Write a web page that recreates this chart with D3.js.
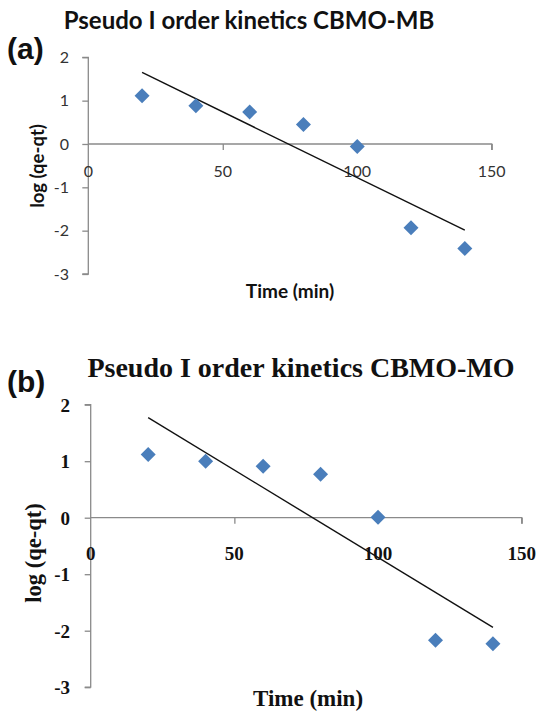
<!DOCTYPE html>
<html><head><meta charset="utf-8">
<script src="https://cdn.jsdelivr.net/npm/d3@7"></script>
<style>html,body{margin:0;padding:0;background:#fff;}svg{display:block;}</style>
</head><body>
<svg id="chart" width="540" height="712"></svg>
<script>
// ---- data ----
const timeMin = [20, 40, 60, 80, 100, 120, 140];
const logA = [1.11, 0.88, 0.74, 0.45, -0.06, -1.93, -2.41];
const logB = [1.12, 1.00, 0.91, 0.77, 0.01, -2.17, -2.23];
const trendTime = [20, 140];
const trendA = [1.65, -1.99];
const trendB = [1.77, -1.94];
const xTicks = [0, 50, 100, 150];
const yTicks = [2, 1, 0, -1, -2, -3];
const titles = ["Pseudo I order kinetics CBMO-MB", "Pseudo I order kinetics CBMO-MO"];
const panelTags = ["(a)", "(b)"];
const xLabel = "Time (min)";
const yLabel = "log (qe-qt)";

const svg = d3.select("#chart");

function panel(cfg, values, trend, title, tag) {
  const g = svg.append("g");
  const x = d3.scaleLinear().domain([0, 150]).range(cfg.xr);
  const y = d3.scaleLinear().domain([-3, 2]).range(cfg.yr);
  const axisCol = "#8a8a8a";

  // y axis (left ticks)
  const ya = d3.axisLeft(y).tickValues(yTicks).tickSize(6).tickFormat("");
  const yg = g.append("g").attr("transform", `translate(${x(0)},0)`).call(ya);
  yg.select(".domain").attr("stroke", axisCol).attr("stroke-width", 1.3).attr("d", `M-6,${y(2)}H0V${y(-3)}H-6`);
  yg.selectAll(".tick line").attr("stroke", axisCol).attr("stroke-width", 1.3);

  // x axis at zero line, ticks downward
  const xa = d3.axisBottom(x).tickValues(xTicks.slice(1)).tickSize(6).tickFormat("");
  const xg = g.append("g").attr("transform", `translate(0,${y(0)})`).call(xa);
  xg.select(".domain").attr("stroke", axisCol).attr("stroke-width", 1.3).attr("d", `M${x(0)},0H${x(150)}V6`);
  xg.selectAll(".tick line").attr("stroke", axisCol).attr("stroke-width", 1.3);

  // tick labels
  g.selectAll(".ylab").data(yTicks).join("text")
    .attr("x", cfg.yLabRight).attr("y", d => y(d))
    .attr("dy", "0.36em").attr("text-anchor", "end")
    .style("font-family", cfg.font).style("font-weight", cfg.tickWeight)
    .style("font-size", cfg.tickSize + "px").attr("fill", cfg.tickCol)
    .text(d => d);
  g.selectAll(".xlab").data(xTicks).join("text")
    .attr("x", d => x(d)).attr("y", cfg.xLabY)
    .attr("text-anchor", "middle")
    .style("font-family", cfg.font).style("font-weight", cfg.tickWeight)
    .style("font-size", cfg.tickSize + "px").attr("fill", cfg.tickCol)
    .text(d => d);

  // trendline
  g.append("line")
    .attr("x1", x(trendTime[0])).attr("y1", y(trend[0]))
    .attr("x2", x(trendTime[1])).attr("y2", y(trend[1]))
    .attr("stroke", "#111").attr("stroke-width", 1.4);

  // markers
  g.selectAll(".pt").data(timeMin.map((t, i) => [t, values[i]])).join("path")
    .attr("d", "M0,-7.5L7.5,0L0,7.5L-7.5,0Z")
    .attr("transform", d => `translate(${x(d[0])},${y(d[1])})`)
    .attr("fill", "#4a7ebb");

  // axis titles
  g.append("text").attr("x", cfg.xTitle[0]).attr("y", cfg.xTitle[1])
    .attr("text-anchor", "middle")
    .style("font-family", cfg.font).style("font-weight", "bold")
    .style("font-size", cfg.xTitleSize + "px").attr("fill", "#111").text(xLabel);
  g.append("text").attr("transform", `translate(${cfg.yTitle[0]},${cfg.yTitle[1]}) rotate(-90)`)
    .attr("text-anchor", "middle")
    .style("font-family", cfg.font).style("font-weight", "bold")
    .style("font-size", cfg.yTitleSize + "px").attr("fill", "#111").text(yLabel);

  // chart title
  g.append("text").attr("x", cfg.title[0]).attr("y", cfg.title[1])
    .attr("text-anchor", "middle")
    .style("font-family", cfg.font).style("font-weight", "bold")
    .style("font-size", cfg.titleSize + "px").attr("fill", "#111").text(title);

  // panel tag
  g.append("text").attr("x", cfg.tag[0]).attr("y", cfg.tag[1])
    .style("font-family", "'Liberation Sans', Arial, sans-serif").style("font-weight", "bold")
    .style("font-size", "30px").attr("fill", "#111").text(tag);
}

panel({
  xr: [88.3, 491.7], yr: [274, 57.3],
  font: "Lato, 'Open Sans', sans-serif", tickWeight: "normal", tickSize: 16, tickCol: "#333",
  yLabRight: 69, xLabY: 177,
  xTitle: [290, 298], yTitle: [44, 166], xTitleSize: 19, yTitleSize: 18.5,
  title: [249, 29], titleSize: 24, tag: [7, 59]
}, logA, trendA, titles[0], panelTags[0]);

panel({
  xr: [90.7, 521.7], yr: [687.2, 404.7],
  font: "'Liberation Serif', 'Times New Roman', serif", tickWeight: "bold", tickSize: 19, tickCol: "#111",
  yLabRight: 70, xLabY: 560,
  xTitle: [308, 706], yTitle: [41, 553], xTitleSize: 23, yTitleSize: 22.5,
  title: [301, 377], titleSize: 28, tag: [7, 392]
}, logB, trendB, titles[1], panelTags[1]);
</script>
</body></html>
